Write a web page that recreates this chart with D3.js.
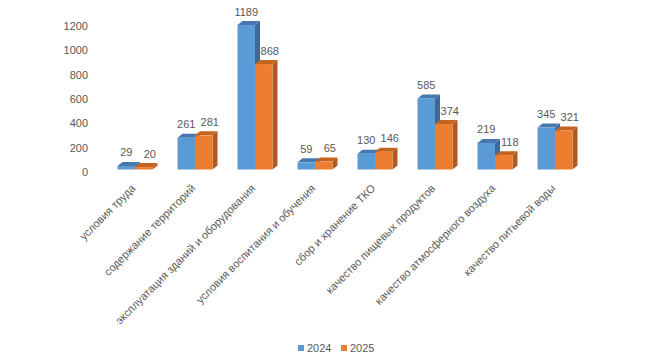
<!DOCTYPE html>
<html><head><meta charset="utf-8">
<script src="https://cdn.jsdelivr.net/npm/d3@7"></script>
<style>body{margin:0;background:#fff}svg{display:block}text{font-family:"Liberation Sans",Arial,sans-serif;fill:#595959}</style>
</head><body>
<script>
const categories = ["условия труда","содержание территорий","эксплуатация зданий и оборудования","условия воспитания и обучения","сбор и хранение ТКО","качество пищевых продуктов","качество атмосферного воздуха","качество питьевой воды"];
const series2024 = [29,261,1189,59,130,585,219,345];
const series2025 = [20,281,868,65,146,374,118,321];
const seriesNames = ["2024","2025"];
const yTicks = [0,200,400,600,800,1000,1200];

const W=654,H=355;
const svg=d3.select("body").append("svg").attr("width",W).attr("height",H);
const x=d3.scaleBand().domain(categories).range([105,585]).padding(0);
const y=d3.scaleLinear().domain([0,1200]).range([169.5,23.7]);
const bw=17.5, dx=5, dy=4;
const styles=[
 {front:"#5B9BD5",top:"#4677AE",side:"#3D6A99",lx:0},
 {front:"#ED7D31",top:"#C4651F",side:"#AE5A21",lx:6}
];
const data=[series2024,series2025];

// y tick labels
svg.append("g").selectAll("text").data(yTicks).join("text")
 .attr("x",88).attr("y",d=>y(d)+2.5).attr("dy","0.35em")
 .attr("text-anchor","end").attr("font-size",11).text(d=>d);

// bars
categories.forEach((c,i)=>{
  const cx=x(c)+x.bandwidth()/2;
  data.forEach((vals,s)=>{
    const v=vals[i], st=styles[s];
    const x0=cx-bw+s*bw, x1=x0+bw, yt=y(v), yb=y(0);
    const g=svg.append("g");
    g.append("path").attr("d",`M${x1},${yb}L${x1+dx},${yb-dy}L${x1+dx},${yt-dy}L${x1},${yt}Z`).attr("fill",st.side);
    g.append("path").attr("d",`M${x0},${yt}L${x0+dx},${yt-dy}L${x1+dx},${yt-dy}L${x1},${yt}Z`).attr("fill",st.top);
    g.append("rect").attr("x",x0).attr("y",yt).attr("width",bw).attr("height",yb-yt).attr("fill",st.front);
  });
});
// value labels
categories.forEach((c,i)=>{
  const cx=x(c)+x.bandwidth()/2;
  data.forEach((vals,s)=>{
    const v=vals[i], st=styles[s];
    const x0=cx-bw+s*bw;
    svg.append("text").attr("x",x0+bw/2+st.lx).attr("y",y(v)-9.5)
      .attr("text-anchor","middle").attr("font-size",11).text(v);
  });
});

// category labels
svg.append("g").selectAll("text").data(categories).join("text")
 .attr("transform",d=>`translate(${x(d)+x.bandwidth()/2+1},${189}) rotate(-45)`)
 .attr("text-anchor","end").attr("font-size",11).text(d=>d);

// legend
const leg=[{n:seriesNames[0],c:styles[0].front,x:298},{n:seriesNames[1],c:styles[1].front,x:341}];
leg.forEach(l=>{
  svg.append("rect").attr("x",l.x).attr("y",345).attr("width",6).attr("height",6).attr("fill",l.c);
  svg.append("text").attr("x",l.x+9).attr("y",348).attr("dy","0.35em").attr("font-size",11).text(l.n);
});
</script>
</body></html>
